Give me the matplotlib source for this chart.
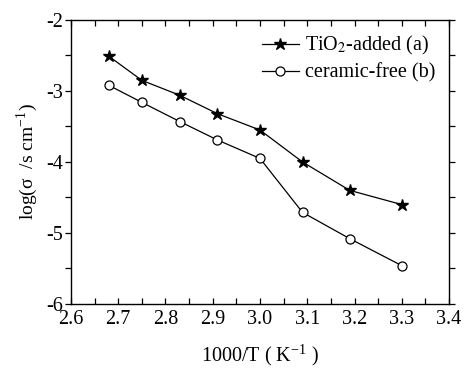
import matplotlib
matplotlib.use("Agg")
import matplotlib.pyplot as plt
from matplotlib.ticker import MultipleLocator

plt.rcParams['font.family'] = ['Liberation Serif', 'DejaVu Serif']
plt.rcParams['mathtext.fontset'] = 'stix'
plt.rcParams['axes.unicode_minus'] = False

x_vals = [2.68, 2.75, 2.83, 2.91, 3.00, 3.09, 3.19, 3.30]
tio2_added = [-2.51, -2.85, -3.06, -3.32, -3.55, -4.00, -4.40, -4.60]
ceramic_free = [-2.92, -3.16, -3.43, -3.69, -3.95, -4.71, -5.08, -5.46]
label_a = 'TiO$_2$-added (a)'
label_b = 'ceramic-free (b)'

fig = plt.figure(figsize=(4.63, 3.69), dpi=100)
ax = fig.add_axes([0.1533, 0.1762, 0.8165, 0.7696])

ax.plot(x_vals, tio2_added, color='black', lw=0.9, marker='*', ms=9,
        mfc='black', mec='black', label=label_a)
ax.plot(x_vals, ceramic_free, color='black', lw=0.9, marker='o', ms=6.5,
        mfc='white', mec='black', mew=0.9, label=label_b)

ax.set_xlim(2.6, 3.4)
ax.set_ylim(-6, -2)
ax.xaxis.set_major_locator(MultipleLocator(0.1))
ax.xaxis.set_minor_locator(MultipleLocator(0.05))
ax.yaxis.set_major_locator(MultipleLocator(1))
ax.yaxis.set_minor_locator(MultipleLocator(0.5))
ax.xaxis.set_major_formatter(plt.FuncFormatter(lambda v, p: f'{v:.1f}'))
ax.yaxis.set_major_formatter(plt.FuncFormatter(lambda v, p: f'{v:.0f}'))

fs = 14.5
ax.tick_params(axis='x', which='both', direction='in', top=True, labelsize=fs,
               length=4, width=0.9, pad=4)
ax.tick_params(axis='y', which='both', direction='out', right=True, labelsize=fs,
               length=4, width=0.9, pad=2)
for s in ax.spines.values():
    s.set_linewidth(1.0)

ax.set_xlabel('1000/T ( K$^{\\mathregular{-1}}$ )', fontsize=fs, labelpad=10)
ax.set_ylabel('log(σ  /s cm$^{\\mathregular{-1}}$)', fontsize=14, labelpad=4)

leg = ax.legend(loc='upper right', frameon=False, fontsize=fs,
                handlelength=1.8, handletextpad=0.3, labelspacing=0.3,
                borderaxespad=0.3, bbox_to_anchor=(1.0, 1.0))

fig.savefig('out.png', dpi=100)
